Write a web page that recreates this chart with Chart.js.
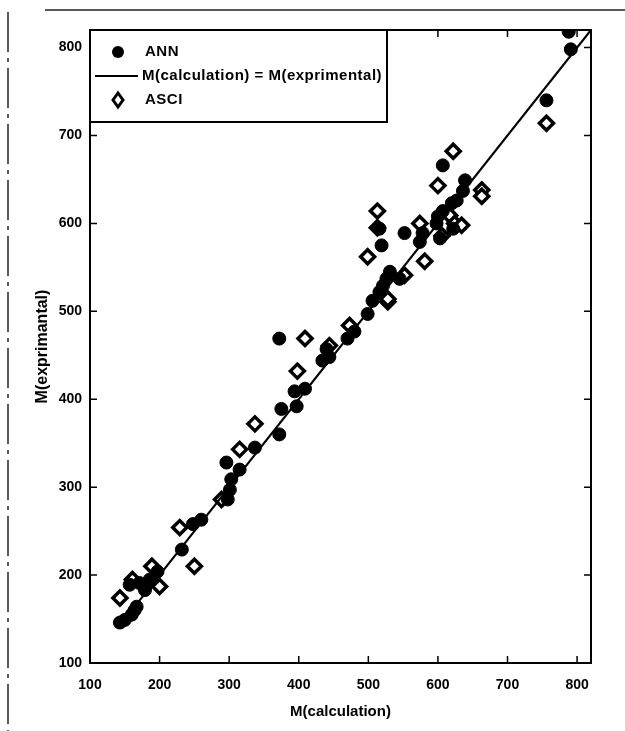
<!DOCTYPE html>
<html>
<head>
<meta charset="utf-8">
<script src="https://cdn.jsdelivr.net/npm/chart.js@4.4.1/dist/chart.umd.min.js"></script>
<style>
  body { margin: 0; background: #fff; }
  canvas { display: block; }
</style>
</head>
<body>
<canvas id="myChart" width="625" height="731"></canvas>
<script>
// values: [M(calculation), M(exprimantal)]
var annX = [143,150,160,164,167,157,171,181,186,179,197,232,248,260,
  296,303,301,298,315,337,372,375,397,394,409,372,440,444,434,470,480,499,506,
  521,516,526,531,545,519,516,552,578,574,603,622,598,600,607,620,627,636,639,607,756,791,788];
var annY = [146,149,155,160,164,189,191,189,195,183,204,229,258,263,
  328,309,297,286,320,345,360,389,392,409,412,469,457,448,444,469,477,497,512,
  529,522,537,545,537,575,594,589,589,579,583,594,600,608,614,623,626,637,649,666,740,798,818];

var asciX = [143,161,189,200,229,250,289,315,337,398,409,444,473,528,
  499,513,513,528,552,581,574,606,617,624,634,663,663,600,622,756];
var asciY = [174,195,210,187,254,210,286,343,372,432,469,461,484,511,
  562,614,595,514,541,557,600,586,609,600,598,638,631,643,682,714];

var lineEnds = [140, 820];
var tickValues = [100,200,300,400,500,600,700,800];

function pairs(xs, ys) {
  return xs.map(function (x, i) { return {x: x, y: ys[i]}; });
}

var fontBold = "'Liberation Sans', Arial, sans-serif";

// box, inward ticks, legend, page frame
var boxPlugin = {
  id: 'boxPlugin',
  beforeDraw: function (chart) {
    var c = chart.ctx;
    c.save();
    c.strokeStyle = '#222';
    c.lineWidth = 1.5;
    c.beginPath();
    c.moveTo(45, 10); c.lineTo(625, 10);
    c.stroke();
    c.setLineDash([40, 6, 4, 6]);
    c.beginPath();
    c.moveTo(8, 12); c.lineTo(8, 731);
    c.stroke();
    c.restore();
  },
  afterDraw: function (chart) {
    var c = chart.ctx;
    var a = chart.chartArea;
    var xs = chart.scales.x, ys = chart.scales.y;
    c.save();
    c.strokeStyle = '#000';
    c.lineWidth = 2;
    c.strokeRect(a.left, a.top, a.right - a.left, a.bottom - a.top);
    c.lineWidth = 1.5;
    c.beginPath();
    tickValues.forEach(function (v) {
      var px = xs.getPixelForValue(v);
      c.moveTo(px, a.bottom); c.lineTo(px, a.bottom - 7);
      c.moveTo(px, a.top); c.lineTo(px, a.top + 7);
      var py = ys.getPixelForValue(v);
      c.moveTo(a.left, py); c.lineTo(a.left + 7, py);
      c.moveTo(a.right, py); c.lineTo(a.right - 7, py);
    });
    c.stroke();

    // legend box
    var lx = a.left, ly = a.top, lw = 297, lh = 92;
    c.fillStyle = '#fff';
    c.fillRect(lx, ly, lw, lh);
    c.lineWidth = 2;
    c.strokeRect(lx, ly, lw, lh);
    c.fillStyle = '#000';
    c.beginPath();
    c.arc(lx + 28, ly + 22, 6, 0, Math.PI * 2);
    c.fill();
    c.lineWidth = 2;
    c.beginPath();
    c.moveTo(lx + 5, ly + 46); c.lineTo(lx + 48, ly + 46);
    c.stroke();
    c.lineWidth = 3;
    c.fillStyle = '#fff';
    c.beginPath();
    c.moveTo(lx + 28, ly + 63); c.lineTo(lx + 33, ly + 70);
    c.lineTo(lx + 28, ly + 77); c.lineTo(lx + 23, ly + 70);
    c.closePath();
    c.fill(); c.stroke();
    c.fillStyle = '#000';
    c.font = 'bold 15px ' + fontBold;
    c.letterSpacing = '0.5px';
    c.textBaseline = 'middle';
    c.fillText('ANN', lx + 55, ly + 22);
    c.fillText('M(calculation) = M(exprimental)', lx + 52, ly + 46);
    c.fillText('ASCI', lx + 55, ly + 70);
    c.restore();
  }
};

var ctx = document.getElementById('myChart');
var myChart = new Chart(ctx, {
  type: 'scatter',
  data: {
    datasets: [
      {
        label: 'ANN',
        data: pairs(annX, annY),
        pointStyle: 'circle',
        pointRadius: 6.5,
        backgroundColor: '#000',
        borderColor: '#000',
        borderWidth: 1,
        order: 2
      },
      {
        label: 'M(calculation) = M(exprimental)',
        type: 'line',
        data: pairs(lineEnds, lineEnds),
        borderColor: '#000',
        borderWidth: 2.2,
        pointRadius: 0,
        fill: false,
        order: 1
      },
      {
        label: 'ASCI',
        data: pairs(asciX, asciY),
        pointStyle: 'rectRot',
        pointRadius: 7,
        backgroundColor: '#fff',
        borderColor: '#000',
        borderWidth: 3.5,
        order: 3
      }
    ]
  },
  options: {
    responsive: false,
    animation: false,
    devicePixelRatio: 1,
    layout: { padding: { left: 0, right: 34, top: 30, bottom: 0 } },
    plugins: {
      legend: { display: false },
      tooltip: { enabled: false }
    },
    scales: {
      x: {
        type: 'linear',
        min: 100,
        max: 820,
        grid: { display: false, drawTicks: false },
        border: { display: false },
        afterBuildTicks: function (s) {
          s.ticks = tickValues.map(function (v) { return {value: v}; });
        },
        afterFit: function (s) { s.height = 68; },
        ticks: {
          padding: 14,
          color: '#000',
          font: { family: fontBold, size: 14, weight: 'bold' }
        },
        title: {
          display: true,
          text: 'M(calculation)',
          color: '#000',
          padding: { top: 0, bottom: 10 },
          font: { family: fontBold, size: 15, weight: 'bold' }
        }
      },
      y: {
        type: 'linear',
        min: 100,
        max: 820,
        grid: { display: false, drawTicks: false },
        border: { display: false },
        afterBuildTicks: function (s) {
          s.ticks = tickValues.map(function (v) { return {value: v}; });
        },
        afterFit: function (s) { s.width = 90; },
        ticks: {
          padding: 8,
          color: '#000',
          font: { family: fontBold, size: 14, weight: 'bold' }
        },
        title: {
          display: true,
          text: 'M(exprimantal)',
          color: '#000',
          padding: { top: 33, bottom: 0 },
          font: { family: fontBold, size: 16, weight: 'bold' }
        }
      }
    }
  },
  plugins: [boxPlugin]
});
</script>
</body>
</html>
